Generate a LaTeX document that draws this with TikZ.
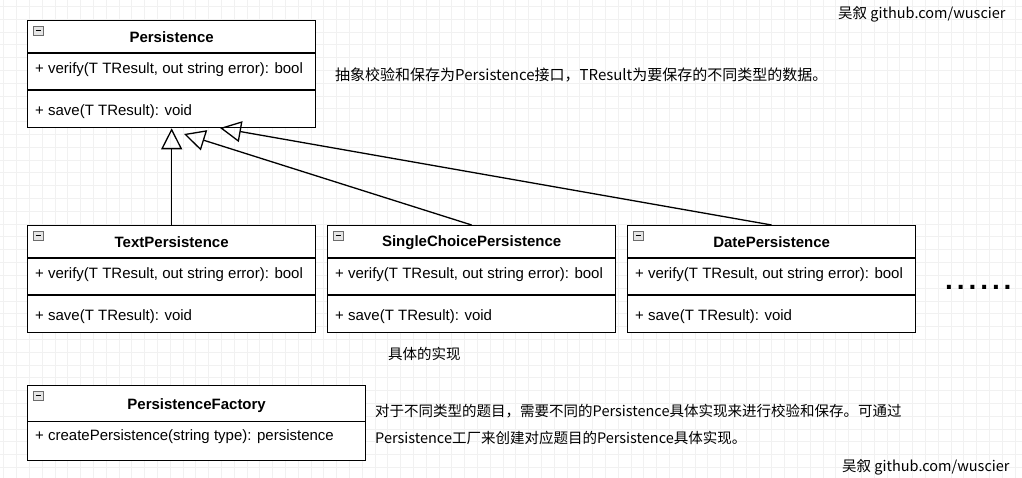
\documentclass[tikz,border=0pt]{standalone}
\usepackage{fontspec}
\setmainfont{Liberation Sans}
\newfontfamily\cjk{Noto Sans CJK SC}
\newfontfamily\dotsfont[LetterSpace=14]{Liberation Sans}
\usetikzlibrary{arrows.meta,calc}
\newcommand\umlicon[1]{%
  \draw[draw=gray!85!black, fill=gray!20, line width=0.7pt] ($(#1.north west)+(6,6)$) rectangle ++(10,9);
  \draw[line width=1.2pt] ($(#1.north west)+(8.5,10.5)$) -- ++(5,0);}
\begin{document}
\begin{tikzpicture}[x=1pt,y=-1pt,
  classbox/.style={draw=black, line width=1.3pt, fill=white, inner sep=0pt, anchor=north west, minimum width=288pt},
  title/.style={font=\bfseries\fontsize{15}{18}\selectfont, inner sep=0pt},
  member/.style={font=\fontsize{15}{18}\selectfont, inner sep=0pt, anchor=west},
  note/.style={font=\cjk\fontsize{14.5}{27}\selectfont, inner sep=0pt, anchor=west, align=left},
  inherit/.style={draw=black, line width=1.3pt, -{Triangle[open, length=21pt, width=21pt, line width=1.3pt]}},
  divider/.style={draw=black, line width=1.3pt},
  gridline/.style={draw=gray!11, line width=0.8pt},
]
\useasboundingbox (0,0) rectangle (1022,478);
\fill[white] (0,0) rectangle (1022,478);
\foreach \i in {0,...,79} \draw[gridline] ({3.7+12.8*\i},0) -- ({3.7+12.8*\i},478);
\foreach \j in {0,...,36} \draw[gridline] (0,{6.5+12.8*\j}) -- (1022,{6.5+12.8*\j});

% Persistence
\node[classbox, minimum height=107pt] (p) at (27,20) {};
\node[title] (pt) at ($(p.north)+(0,17.5)$) {Persistence};
\draw[divider] ($(p.north west)+(0,33)$) -- ($(p.north east)+(0,33)$);
\draw[divider] ($(p.north west)+(0,70)$) -- ($(p.north east)+(0,70)$);
\node[member] (pm1) at ($(p.north west)+(8,50)$) {+ verify(T TResult, out string error): bool};
\node[member] (pm2) at ($(p.north west)+(8,91.7)$) {+ save(T TResult): void};
\umlicon{p}

% TextPersistence
\node[classbox, minimum height=107pt] (tp) at (27,225) {};
\node[title] (tpt) at ($(tp.north)+(0,17.5)$) {TextPersistence};
\draw[divider] ($(tp.north west)+(0,33)$) -- ($(tp.north east)+(0,33)$);
\draw[divider] ($(tp.north west)+(0,70)$) -- ($(tp.north east)+(0,70)$);
\node[member] (tpm1) at ($(tp.north west)+(8,50)$) {+ verify(T TResult, out string error): bool};
\node[member] (tpm2) at ($(tp.north west)+(8,91.7)$) {+ save(T TResult): void};
\umlicon{tp}

% SingleChoicePersistence
\node[classbox, minimum height=107pt] (sp) at (327,225) {};
\node[title] (spt) at ($(sp.north)+(0,17.5)$) {SingleChoicePersistence};
\draw[divider] ($(sp.north west)+(0,33)$) -- ($(sp.north east)+(0,33)$);
\draw[divider] ($(sp.north west)+(0,70)$) -- ($(sp.north east)+(0,70)$);
\node[member] (spm1) at ($(sp.north west)+(8,50)$) {+ verify(T TResult, out string error): bool};
\node[member] (spm2) at ($(sp.north west)+(8,91.7)$) {+ save(T TResult): void};
\umlicon{sp}

% DatePersistence
\node[classbox, minimum height=107pt] (dp) at (627,225) {};
\node[title] (dpt) at ($(dp.north)+(0,17.5)$) {DatePersistence};
\draw[divider] ($(dp.north west)+(0,33)$) -- ($(dp.north east)+(0,33)$);
\draw[divider] ($(dp.north west)+(0,70)$) -- ($(dp.north east)+(0,70)$);
\node[member] (dpm1) at ($(dp.north west)+(8,50)$) {+ verify(T TResult, out string error): bool};
\node[member] (dpm2) at ($(dp.north west)+(8,91.7)$) {+ save(T TResult): void};
\umlicon{dp}

% PersistenceFactory
\node[classbox, minimum width=338pt, minimum height=75pt] (pf) at (27,385) {};
\node[title] (pft) at ($(pf.north)+(0,21)$) {PersistenceFactory};
\draw[divider] ($(pf.north west)+(0,36.7)$) -- ($(pf.north east)+(0,36.7)$);
\node[member] (pfm1) at ($(pf.north west)+(8,52)$) {+ createPersistence(string type): persistence};
\umlicon{pf}

% inheritance
\coordinate (t2) at (184,134);
\coordinate (t3) at (220,128);
\draw[inherit] (tp.north) -- (p.south);
\draw[inherit] (sp.north) -- (t2);
\draw[inherit] (dp.north) -- (t3);

% more
\node[font=\dotsfont\bfseries\fontsize{28}{30}\selectfont, inner sep=0pt, anchor=west] (more) at (945,287) {......};

% notes
\node[note, font=\cjk\fontsize{15}{27}\selectfont] (n1) at (335,75) {抽象校验和保存为Persistence接口，TResult为要保存的不同类型的数据。};
\node[note] (n3) at (388,354) {具体的实现};
\node[note] (n2) at (375,424.5) {对于不同类型的题目，需要不同的Persistence具体实现来进行校验和保存。可通过\\Persistence工厂来创建对应题目的Persistence具体实现。};
\node[note] (w1) at (838,14) {吴叙 github.com/wuscier};
\node[note] (w2) at (842,467) {吴叙 github.com/wuscier};
\end{tikzpicture}
\end{document}
